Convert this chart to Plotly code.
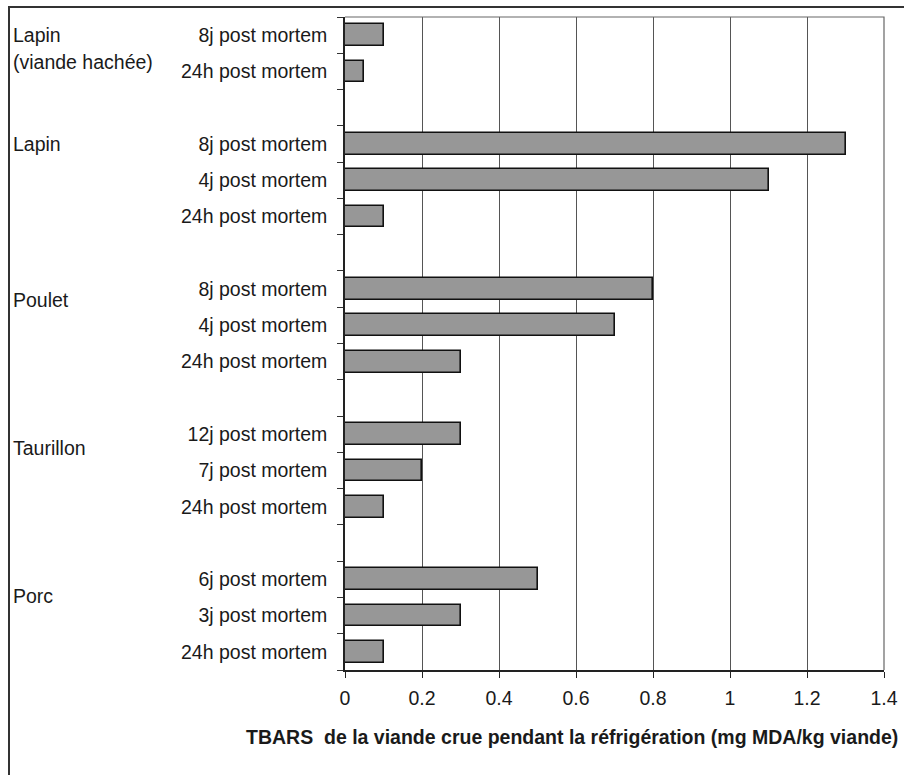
import plotly.graph_objects as go

# TBARS values for raw meat during refrigeration (mg MDA/kg meat)
sub_labels = [
    "8j post mortem", "24h post mortem", "",
    "8j post mortem", "4j post mortem", "24h post mortem", "",
    "8j post mortem", "4j post mortem", "24h post mortem", "",
    "12j post mortem", "7j post mortem", "24h post mortem", "",
    "6j post mortem", "3j post mortem", "24h post mortem",
]
tbars = [
    0.10, 0.05, None,
    1.30, 1.10, 0.10, None,
    0.80, 0.70, 0.30, None,
    0.30, 0.20, 0.10, None,
    0.50, 0.30, 0.10,
]
# species labels and the row (slot) they sit on
groups = ["Lapin", "(viande hachée)", "Lapin", "Poulet", "Taurillon", "Porc"]
group_rows = [0.0, 0.75, 3.0, 7.3, 11.38, 15.46]

x_ticks = [0, 0.2, 0.4, 0.6, 0.8, 1, 1.2, 1.4]
x_title = "TBARS  de la viande crue pendant la réfrigération (mg MDA/kg viande)"

rows = list(range(len(sub_labels)))
bar_rows = [r for r, v in zip(rows, tbars) if v is not None]
bar_vals = [v for v in tbars if v is not None]
label_rows = [r for r, l in zip(rows, sub_labels) if l]
label_text = [l for l in sub_labels if l]

FONT = "Liberation Sans, Arial, sans-serif"

fig = go.Figure(
    go.Bar(
        x=bar_vals,
        y=bar_rows,
        orientation="h",
        width=0.6,
        marker=dict(color="#979797", line=dict(color="#111111", width=1.6)),
        hoverinfo="x",
    )
)

fig.update_layout(
    width=904,
    height=775,
    margin=dict(l=345, r=20, t=17, b=105, autoexpand=False),
    paper_bgcolor="white",
    plot_bgcolor="white",
    showlegend=False,
    font=dict(family=FONT, size=19.5, color="#1a1a1a"),
    bargap=0,
)

fig.update_xaxes(
    range=[0, 1.4],
    tickvals=x_ticks,
    ticktext=[f"{t:g}" for t in x_ticks],
    ticks="outside",
    ticklen=6,
    tickcolor="#222222",
    showgrid=True,
    gridcolor="#555555",
    gridwidth=1,
    showline=True,
    linecolor="#222222",
    linewidth=1.5,
    zeroline=False,
    automargin=False,
    tickfont=dict(size=19.5, color="#1a1a1a"),
    ticklabelstandoff=4,
)

fig.update_yaxes(
    range=[len(sub_labels) - 0.5, -0.5],
    tickvals=label_rows,
    ticktext=label_text,
    ticks="",
    showgrid=False,
    showline=True,
    linecolor="#222222",
    linewidth=1.5,
    zeroline=False,
    automargin=False,
    ticklabelstandoff=12,
    minor=dict(
        tick0=-0.5,
        dtick=1,
        ticks="outside",
        ticklen=6,
        tickcolor="#333333",
        tickwidth=1,
        showgrid=False,
    ),
)

# top and right edge of the plotting area
fig.add_shape(
    type="path",
    xref="paper", yref="paper",
    path="M 0 1 L 1 1 L 1 0",
    line=dict(color="#666666", width=1.2),
    layer="above",
)

# outer frame around the figure (left and top sides)
fx = (9 - 345) / 539
fy = (670 - 7) / 653
fig.add_shape(
    type="path",
    xref="paper", yref="paper",
    path=f"M {fx} -0.3 L {fx} {fy} L 1.2 {fy}",
    line=dict(color="#333333", width=2),
    layer="above",
)

for text, row in zip(groups, group_rows):
    fig.add_annotation(
        text=text,
        xref="paper", yref="y",
        x=(11 - 345) / 539, y=row,
        xanchor="left", yanchor="middle",
        showarrow=False,
        font=dict(size=19.5, color="#1a1a1a"),
    )

fig.add_annotation(
    text=f"<b>{x_title}</b>",
    xref="paper", yref="paper",
    x=(572 - 345) / 539, y=(670 - 737) / 653,
    xanchor="center", yanchor="middle",
    showarrow=False,
    font=dict(size=19.5, color="#1a1a1a"),
)

fig.write_html("out.html")
